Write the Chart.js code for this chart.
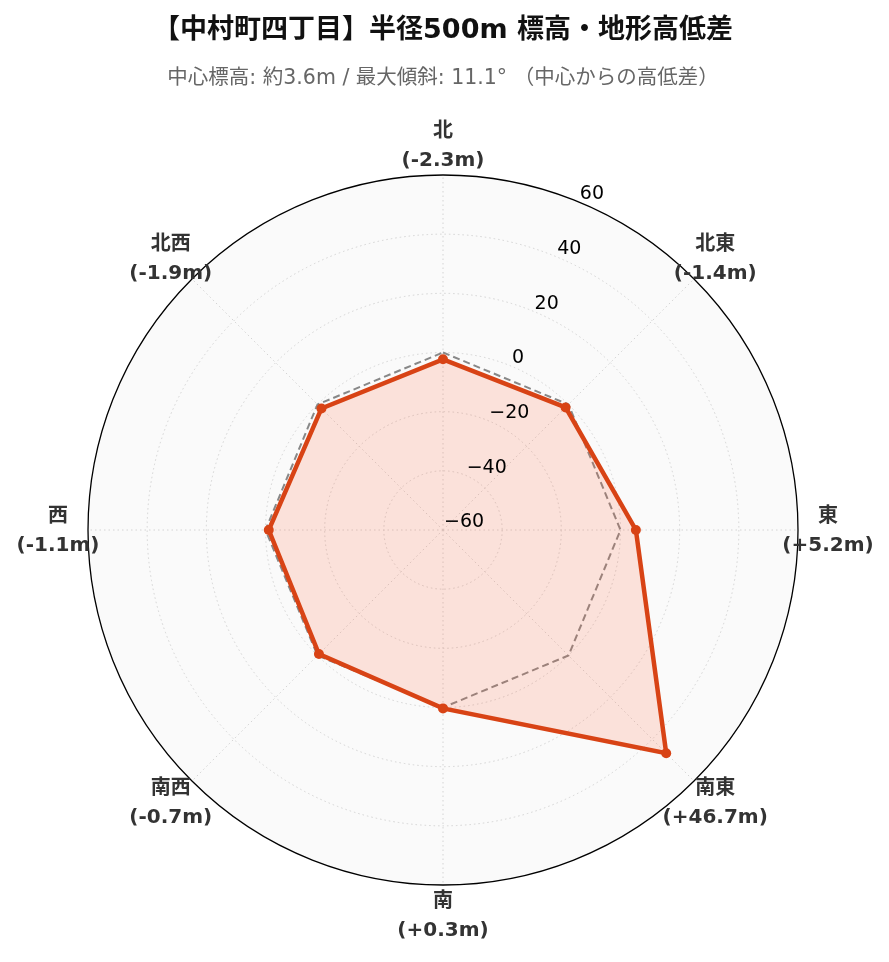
<!DOCTYPE html>
<html lang="ja">
<head>
  <meta charset="UTF-8">
  <meta name="viewport" content="width=device-width, initial-scale=1.0">
  <title>中村町四丁目 標高・地形高低差</title>
  <script src="https://cdn.jsdelivr.net/npm/chart.js"></script>
  <style>
    body { margin: 0; background: #fff; }
    canvas { display: block; }
  </style>
</head>
<body>
  <canvas id="terrainChart" width="889" height="962"></canvas>

  <script>
    // 8方位と中心からの高低差 (m)
    const directions = ['北', '北東', '東', '南東', '南', '南西', '西', '北西'];
    const heightDiffs = [-2.3, -1.4, 5.2, 46.7, 0.3, -0.7, -1.1, -1.9];
    const zeroLine = [0, 0, 0, 0, 0, 0, 0, 0];
    const radialTicks = [-60, -40, -20, 0, 20, 40, 60];

    const LATIN_CJK = '"DejaVu Sans", "Noto Sans CJK JP", sans-serif';

    function diffLabel(v) {
      return '(' + (v > 0 ? '+' : '') + v.toFixed(1) + 'm)';
    }

    function tickLabel(v) {
      return v < 0 ? '\u2212' + Math.abs(v) : String(v);
    }

    // direction labels (2 lines, centered) and radial tick labels at 22.5deg
    const polarText = {
      id: 'polarText',
      afterDatasetsDraw(chart) {
        const scale = chart.scales.r;
        const ctx = chart.ctx;
        ctx.save();
        ctx.textAlign = 'center';
        ctx.textBaseline = 'middle';
        ctx.fillStyle = '#333';
        ctx.font = 'bold 20px ' + LATIN_CJK;
        directions.forEach((dir, i) => {
          const p = scale.getPointPosition(i, scale.drawingArea + 30);
          ctx.fillText(dir, p.x, p.y - 13);
          ctx.fillText(diffLabel(heightDiffs[i]), p.x, p.y + 16);
        });

        ctx.textAlign = 'left';
        ctx.fillStyle = '#000';
        ctx.font = '19px "DejaVu Sans", sans-serif';
        radialTicks.forEach(v => {
          const p = scale.getPointPosition(0, scale.getDistanceFromCenterForValue(v), Math.PI / 8);
          ctx.fillText(tickLabel(v), p.x + 1, p.y - 7.5);
        });
        ctx.restore();
      }
    };

    new Chart(document.getElementById('terrainChart'), {
      type: 'radar',
      data: {
        labels: directions,
        datasets: [
          {
            label: '高低差',
            data: heightDiffs,
            borderColor: '#D84315',
            backgroundColor: 'rgba(255, 100, 60, 0.17)',
            borderWidth: 4.5,
            pointRadius: 5,
            pointBackgroundColor: '#D84315',
            pointBorderWidth: 0,
            fill: 'start',
            tension: 0
          },
          {
            label: '基準 (0m)',
            data: zeroLine,
            borderColor: '#888',
            borderWidth: 2,
            borderDash: [7, 4],
            pointRadius: 0,
            fill: false
          }
        ]
      },
      options: {
        responsive: false,
        animation: false,
        layout: {
          padding: { top: 0, bottom: 77, left: 88, right: 91 }
        },
        plugins: {
          legend: { display: false },
          tooltip: { enabled: false },
          title: {
            display: true,
            text: '【中村町四丁目】半径500m 標高・地形高低差',
            color: '#111',
            font: { size: 27, weight: 'bold', family: LATIN_CJK },
            padding: { top: 15, bottom: 10 }
          },
          subtitle: {
            display: true,
            text: '中心標高: 約3.6m / 最大傾斜: 11.1° （中心からの高低差）',
            color: '#666',
            font: { size: 20.5, family: LATIN_CJK },
            padding: { top: 9.4, bottom: 83.6 }
          }
        },
        scales: {
          r: {
            min: -60,
            max: 60,
            backgroundColor: '#fafafa',
            ticks: { display: false, stepSize: 20 },
            pointLabels: { display: false },
            angleLines: {
              color: '#d4d4d4',
              lineWidth: 1,
              borderDash: [1.5, 3]
            },
            grid: {
              circular: true,
              color: ctx => ctx.tick && ctx.tick.value === 60 ? '#000' : '#d4d4d4',
              lineWidth: ctx => ctx.tick && ctx.tick.value === 60 ? 1.3 : 1
            },
            border: {
              dash: ctx => ctx.tick && ctx.tick.value === 60 ? [] : [1.5, 3]
            }
          }
        }
      },
      plugins: [polarText]
    });
  </script>
</body>
</html>
